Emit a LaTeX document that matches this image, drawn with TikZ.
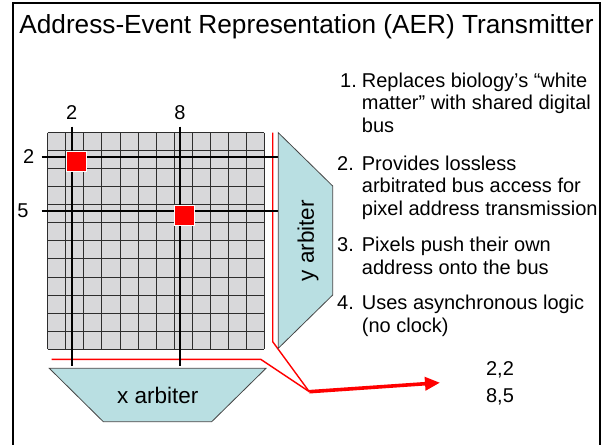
\documentclass[tikz,border=0pt]{standalone}
\usepackage{fontspec}
\setmainfont{Liberation Sans}
\usetikzlibrary{arrows.meta}
\definecolor{arbfill}{RGB}{185,223,226}
\definecolor{cellfill}{RGB}{216,216,218}
\definecolor{gridcol}{RGB}{45,45,45}
\definecolor{arbline}{RGB}{70,70,70}
\begin{document}
\begin{tikzpicture}[x=1pt,y=-1pt,
  every node/.style={inner sep=0pt},
  lab/.style={font=\fontsize{20}{24}\selectfont},
  item/.style={font=\fontsize{20}{22.5}\selectfont, anchor=north west, align=left},
  num/.style={font=\fontsize{20}{22.5}\selectfont, anchor=base west},
  arbtext/.style={font=\fontsize{22.5}{27}\selectfont},
  pix/.style={minimum size=20pt, fill=red, draw=white, line width=0.6pt},
  selline/.style={black, line width=2pt},
  bus/.style={red, line width=1.4pt, line join=round},
  arbshape/.style={draw=arbline, fill=arbfill, line width=0.8pt},
  gridl/.style={gridcol, line width=0.8pt}]
\useasboundingbox (0,0) rectangle (607,444);
% frame
\draw[line width=2pt, line join=miter] (13,446) -- (13,3) -- (600,3) -- (600,446);
% title
\node[anchor=base, font=\fontsize{26.2}{30}\selectfont] (title) at (306.5,33.5) {Address-Event Representation (AER) Transmitter};
% pixel array
\fill[cellfill] (47.7,132.7) rectangle (264.3,349);
\foreach \i in {0,...,12}{
  \draw[gridl] ({47.7+18.05*\i},132.7) -- ({47.7+18.05*\i},349);
  \draw[gridl] (47.7,{132.7+18.025*\i}) -- (264.3,{132.7+18.025*\i});
}
% bus coordinates
\coordinate (ybus top) at (272.7,132.7);
\coordinate (ybus kink) at (272.7,341.7);
\coordinate (xbus start) at (51.7,359.3);
\coordinate (xbus kink) at (260.7,359.3);
\coordinate (merge) at (309.3,391.7);
\coordinate (tip) at (440,382.7);
\draw[bus] (ybus top) -- (ybus kink) -- (merge);
\draw[bus] (xbus start) -- (xbus kink) -- (merge);
\draw[red, line width=3.6pt, -{Triangle[length=15pt,width=13pt]}] (merge) -- (tip);
% selection lines
\coordinate (c2t) at (71.7,126.7); \coordinate (c2b) at (71.7,366);
\coordinate (c8t) at (180,126.7);  \coordinate (c8b) at (180,366);
\coordinate (r2l) at (41.7,157);   \coordinate (r2r) at (278.3,157);
\coordinate (r5l) at (41.7,210.7); \coordinate (r5r) at (278.3,210.7);
\draw[selline] (c2t) -- (c2b);
\draw[selline] (c8t) -- (c8b);
\draw[selline] (r2l) -- (r2r);
\draw[selline] (r5l) -- (r5r);
% active pixels
\node[pix] (p22) at (76,161) {};
\node[pix] (p85) at (184.3,215) {};
% arbiters
\draw[arbshape] (278.3,132.7) -- (332.7,186) -- (332.7,295) -- (278.3,348.3) -- cycle;
\draw[arbshape] (49.3,368.3) -- (266,368.3) -- (211.7,421.7) -- (103.3,421.7) -- cycle;
\node[arbtext, rotate=90] (yarb) at (308,240.8) {y arbiter};
\node[arbtext] (xarb) at (157.7,395.5) {x arbiter};
% address labels
\node[lab] (lc2) at (71.7,112.7) {2};
\node[lab] (lc8) at (180,112.7) {8};
\node[lab] (lr2) at (28.7,157) {2};
\node[lab] (lr5) at (23,211) {5};
% output addresses
\node[lab, anchor=base] (o1) at (500,375) {2,2};
\node[lab, anchor=base] (o2) at (500,402.7) {8,5};
% list
\node[num] (n1) at (340,87) {1.};
\node[item] (t1) at (361.7,71.25) {\strut Replaces biology’s “white\\matter” with shared digital\\bus};
\node[num] (n2) at (337,170) {2.};
\node[item] (t2) at (361.7,154.25) {\strut Provides lossless\\arbitrated bus access for\\pixel address transmission};
\node[num] (n3) at (337,251.5) {3.};
\node[item] (t3) at (361.7,235.75) {\strut Pixels push their own\\address onto the bus};
\node[num] (n4) at (337,309.5) {4.};
\node[item] (t4) at (361.7,293.75) {\strut Uses asynchronous logic\\(no clock)};
\end{tikzpicture}
\end{document}
